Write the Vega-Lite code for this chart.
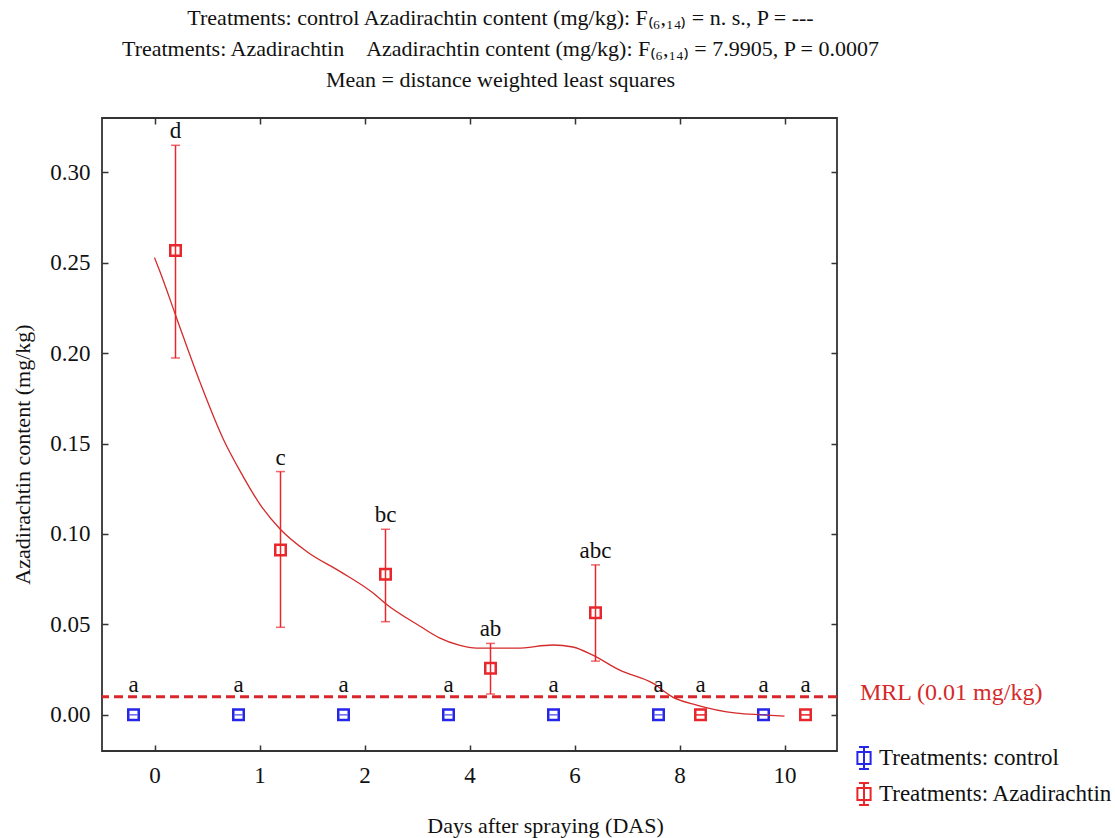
{
  "$schema": "https://vega.github.io/schema/vega-lite/v6.json",
  "width": 735,
  "height": 633,
  "autosize": {"type": "none"},
  "padding": {"left": 102, "top": 118, "right": 278, "bottom": 87},
  "background": "white",
  "config": {
    "font": "Liberation Serif",
    "view": {"stroke": "#333", "strokeWidth": 1.8},
    "axis": {"grid": false, "domain": false, "tickColor": "#333", "tickWidth": 1.5, "labelColor": "#111", "titleColor": "#111", "labelFont": "Liberation Serif", "titleFont": "Liberation Serif", "titleFontWeight": "normal"}
  },
  "title": {
    "text": ["Treatments: control Azadirachtin content (mg/kg): F₍₆,₁₄₎ = n. s., P = ---", "Treatments: Azadirachtin\u00a0\u00a0\u00a0\u00a0Azadirachtin content (mg/kg): F₍₆,₁₄₎ = 7.9905, P = 0.0007", "Mean = distance weighted least squares"],
    "fontSize": 22, "font": "Liberation Serif", "fontWeight": "normal", "color": "#111", "lineHeight": 31, "anchor": "middle", "dx": 31, "offset": 25
  },
  "datasets": {
    "means": [
      {"treatment": "control", "day": "0", "idx": 0, "mean": 0, "lower": 0, "upper": 0, "letter": "a"},
      {"treatment": "control", "day": "1", "idx": 1, "mean": 0, "lower": 0, "upper": 0, "letter": "a"},
      {"treatment": "control", "day": "2", "idx": 2, "mean": 0, "lower": 0, "upper": 0, "letter": "a"},
      {"treatment": "control", "day": "4", "idx": 3, "mean": 0, "lower": 0, "upper": 0, "letter": "a"},
      {"treatment": "control", "day": "6", "idx": 4, "mean": 0, "lower": 0, "upper": 0, "letter": "a"},
      {"treatment": "control", "day": "8", "idx": 5, "mean": 0, "lower": 0, "upper": 0, "letter": "a"},
      {"treatment": "control", "day": "10", "idx": 6, "mean": 0, "lower": 0, "upper": 0, "letter": "a"},
      {"treatment": "Azadirachtin", "day": "0", "idx": 0, "mean": 0.2568, "lower": 0.1973, "upper": 0.3149, "letter": "d"},
      {"treatment": "Azadirachtin", "day": "1", "idx": 1, "mean": 0.0912, "lower": 0.0484, "upper": 0.1345, "letter": "c"},
      {"treatment": "Azadirachtin", "day": "2", "idx": 2, "mean": 0.0777, "lower": 0.0515, "upper": 0.1026, "letter": "bc"},
      {"treatment": "Azadirachtin", "day": "4", "idx": 3, "mean": 0.0257, "lower": 0.0115, "upper": 0.0395, "letter": "ab"},
      {"treatment": "Azadirachtin", "day": "6", "idx": 4, "mean": 0.0565, "lower": 0.0297, "upper": 0.0829, "letter": "abc"},
      {"treatment": "Azadirachtin", "day": "8", "idx": 5, "mean": 0, "lower": 0, "upper": 0, "letter": "a"},
      {"treatment": "Azadirachtin", "day": "10", "idx": 6, "mean": 0, "lower": 0, "upper": 0, "letter": "a"}
    ],
    "curve": [
      {"pos": 0, "val": 0.2528},
      {"pos": 0.057, "val": 0.2443},
      {"pos": 0.216, "val": 0.2185},
      {"pos": 0.437, "val": 0.1834},
      {"pos": 0.659, "val": 0.152},
      {"pos": 0.818, "val": 0.1345},
      {"pos": 1.008, "val": 0.1161},
      {"pos": 1.198, "val": 0.1026},
      {"pos": 1.452, "val": 0.0902},
      {"pos": 1.769, "val": 0.0792},
      {"pos": 2.085, "val": 0.0672},
      {"pos": 2.196, "val": 0.0617},
      {"pos": 2.529, "val": 0.049},
      {"pos": 2.719, "val": 0.0424},
      {"pos": 2.9, "val": 0.0385},
      {"pos": 3.071, "val": 0.0369},
      {"pos": 3.452, "val": 0.0369},
      {"pos": 3.794, "val": 0.0386},
      {"pos": 3.984, "val": 0.0375},
      {"pos": 4.174, "val": 0.033},
      {"pos": 4.431, "val": 0.0247},
      {"pos": 4.745, "val": 0.0175},
      {"pos": 4.935, "val": 0.0098},
      {"pos": 5.163, "val": 0.0054},
      {"pos": 5.543, "val": 0.0009},
      {"pos": 5.79, "val": 0.0},
      {"pos": 6.0, "val": -0.0007}
    ],
    "mrl": [{"mrl": 0.01, "label": "MRL (0.01 mg/kg)"}]
  },
  "resolve": {"axis": {"x": "independent", "y": "independent"}},
  "layer": [
    {
      "data": {"name": "means"},
      "transform": [{"filter": "datum.treatment == 'control'"}],
      "mark": {"type": "point", "shape": "square", "filled": false, "strokeWidth": 2.5, "size": 110, "xOffset": -21, "opacity": 1},
      "encoding": {
        "x": {"field": "idx", "type": "quantitative", "scale": {"domain": [-0.5, 6.5], "nice": false, "zero": false}, "axis": {"orient": "top", "values": [0, 1, 2, 3, 4, 5, 6], "labels": false, "title": null, "tickSize": -6}},
        "y": {"field": "mean", "type": "quantitative", "scale": {"domain": [-0.02, 0.33], "nice": false, "zero": false}, "axis": {"orient": "right", "values": [0, 0.05, 0.1, 0.15, 0.2, 0.25, 0.3], "labels": false, "title": null, "tickSize": -6}},
        "color": {"field": "treatment", "type": "nominal", "scale": {"domain": ["control", "Azadirachtin"], "range": ["#2626e8", "#e8262b"]}, "legend": {"orient": "none", "legendX": 750, "legendY": 628, "title": null, "labelExpr": "'Treatments: ' + datum.label", "labelLimit": 0, "symbolType": "M-0.6,-0.55H0.6V0.55H-0.6Z M0,-1V1 M-0.45,-1H0.45 M-0.45,1H0.45", "symbolSize": 484, "symbolStrokeWidth": 2, "symbolFillColor": "transparent", "symbolOpacity": 1, "labelFontSize": 23, "labelFont": "Liberation Serif", "labelColor": "#111", "rowPadding": 6, "labelOffset": 3}}
      }
    },
    {
      "data": {"name": "means"},
      "transform": [{"filter": "datum.treatment == 'Azadirachtin'"}],
      "mark": {"type": "point", "shape": "square", "filled": false, "strokeWidth": 2.5, "size": 110, "xOffset": 21, "opacity": 1},
      "encoding": {
        "x": {"field": "idx", "type": "quantitative", "axis": null},
        "y": {"field": "mean", "type": "quantitative", "axis": null},
        "color": {"field": "treatment", "type": "nominal", "legend": {"orient": "none", "legendX": 750, "legendY": 628, "title": null, "labelExpr": "'Treatments: ' + datum.label", "labelLimit": 0, "symbolType": "M-0.6,-0.55H0.6V0.55H-0.6Z M0,-1V1 M-0.45,-1H0.45 M-0.45,1H0.45", "symbolSize": 484, "symbolStrokeWidth": 2, "symbolFillColor": "transparent", "symbolOpacity": 1, "labelFontSize": 23, "labelFont": "Liberation Serif", "labelColor": "#111", "rowPadding": 6, "labelOffset": 3}}
      }
    },
    {
      "data": {"name": "curve"},
      "mark": {"type": "line", "color": "#d42a2a", "strokeWidth": 1.3, "interpolate": "monotone"},
      "encoding": {
        "x": {"field": "pos", "type": "quantitative",
          "axis": {"orient": "bottom", "values": [0, 1, 2, 3, 4, 5, 6], "labelExpr": "['0','1','2','4','6','8','10'][datum.value]", "title": "Days after spraying (DAS)", "tickSize": -6, "labelPadding": 19, "labelFontSize": 23, "titleFontSize": 22, "titleX": 443, "titleY": 74, "titleBaseline": "middle"}},
        "y": {"field": "val", "type": "quantitative",
          "axis": {"orient": "left", "values": [0, 0.05, 0.1, 0.15, 0.2, 0.25, 0.3], "format": ".2f", "title": "Azadirachtin content (mg/kg)", "tickSize": -6, "labelPadding": 18, "labelFontSize": 23, "titleFontSize": 22, "titleX": -80, "titleY": 336, "titleBaseline": "middle"}}
      }
    },
    {
      "data": {"name": "mrl"},
      "mark": {"type": "rule", "color": "#d8262b", "strokeWidth": 3, "strokeDash": [9, 5]},
      "encoding": {"y": {"field": "mrl", "type": "quantitative", "axis": null}}
    },
    {
      "data": {"name": "mrl"},
      "mark": {"type": "text", "color": "#d42a2a", "fontSize": 24, "align": "left", "baseline": "middle", "dx": 23, "dy": -4},
      "encoding": {
        "x": {"datum": 6.5, "type": "quantitative", "axis": null},
        "y": {"field": "mrl", "type": "quantitative", "axis": null},
        "text": {"field": "label"}
      }
    },
    {
      "data": {"name": "means"},
      "mark": {"type": "rule", "strokeWidth": 1.5, "xOffset": 21, "color": "#e8262b"},
      "transform": [{"filter": "datum.treatment == 'Azadirachtin'"}],
      "encoding": {
        "x": {"field": "idx", "type": "quantitative", "axis": null},
        "y": {"field": "lower", "type": "quantitative", "axis": null},
        "y2": {"field": "upper"}
      }
    },
    {
      "data": {"name": "means"},
      "transform": [{"filter": "datum.treatment == 'control'"}],
      "mark": {"type": "tick", "orient": "horizontal", "size": 8, "thickness": 1.5, "xOffset": -21, "color": "#2626e8"},
      "encoding": {
        "x": {"field": "idx", "type": "quantitative", "axis": null},
        "y": {"field": "lower", "type": "quantitative", "axis": null}
      }
    },
    {
      "data": {"name": "means"},
      "transform": [{"filter": "datum.treatment == 'Azadirachtin'"}],
      "mark": {"type": "tick", "orient": "horizontal", "size": 9, "thickness": 1.5, "xOffset": 21, "color": "#e8262b"},
      "encoding": {
        "x": {"field": "idx", "type": "quantitative", "axis": null},
        "y": {"field": "lower", "type": "quantitative", "axis": null}
      }
    },
    {
      "data": {"name": "means"},
      "transform": [{"filter": "datum.treatment == 'Azadirachtin'"}],
      "mark": {"type": "tick", "orient": "horizontal", "size": 9, "thickness": 1.5, "xOffset": 21, "color": "#e8262b"},
      "encoding": {
        "x": {"field": "idx", "type": "quantitative", "axis": null},
        "y": {"field": "upper", "type": "quantitative", "axis": null}
      }
    },
    {
      "data": {"name": "means"},
      "transform": [{"filter": "datum.treatment == 'control'"}],
      "mark": {"type": "text", "fontSize": 23, "baseline": "alphabetic", "dy": -23, "dx": -21, "color": "#111"},
      "encoding": {
        "x": {"field": "idx", "type": "quantitative", "axis": null},
        "y": {"field": "upper", "type": "quantitative", "axis": null},
        "text": {"field": "letter"}
      }
    },
    {
      "data": {"name": "means"},
      "transform": [{"filter": "datum.treatment == 'Azadirachtin' && datum.upper > 0"}],
      "mark": {"type": "text", "fontSize": 23, "baseline": "alphabetic", "dy": -7, "dx": 21, "color": "#111"},
      "encoding": {
        "x": {"field": "idx", "type": "quantitative", "axis": null},
        "y": {"field": "upper", "type": "quantitative", "axis": null},
        "text": {"field": "letter"}
      }
    },
    {
      "data": {"name": "means"},
      "transform": [{"filter": "datum.treatment == 'Azadirachtin' && datum.upper == 0"}],
      "mark": {"type": "text", "fontSize": 23, "baseline": "alphabetic", "dy": -23, "dx": 21, "color": "#111"},
      "encoding": {
        "x": {"field": "idx", "type": "quantitative", "axis": null},
        "y": {"field": "upper", "type": "quantitative", "axis": null},
        "text": {"field": "letter"}
      }
    }
  ]
}
